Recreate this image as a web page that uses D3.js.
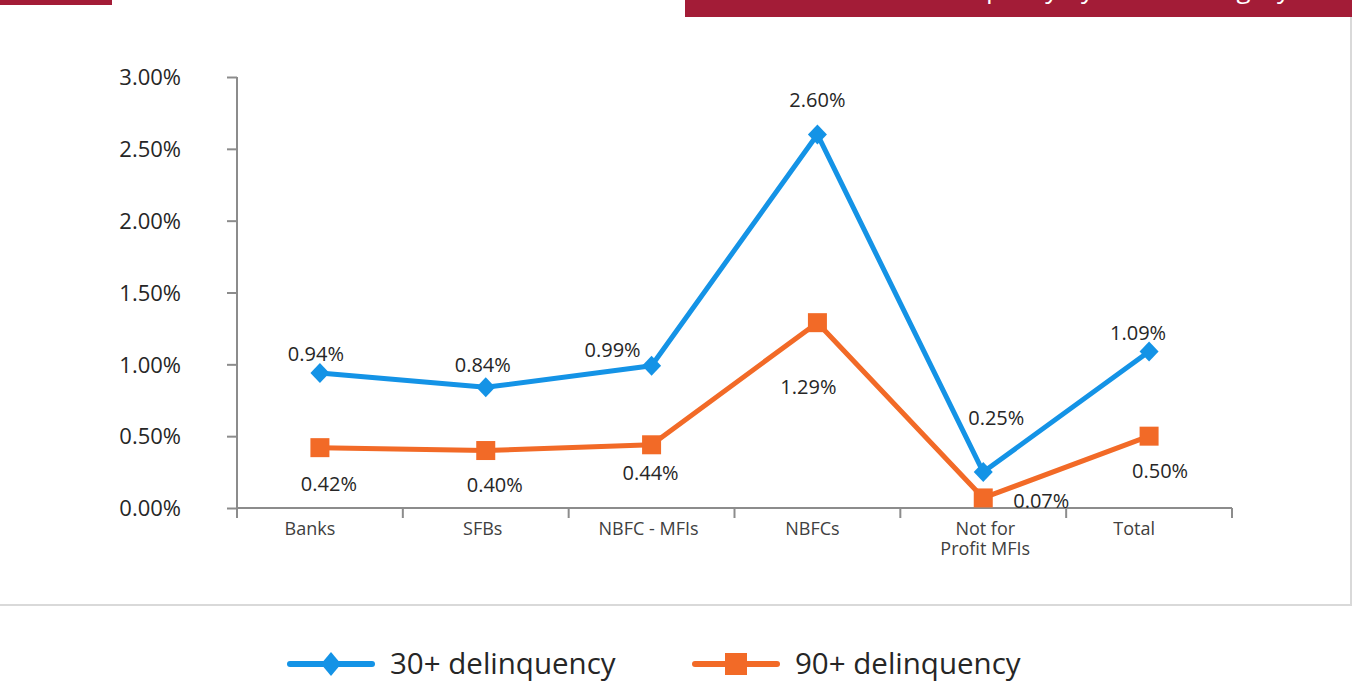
<!DOCTYPE html>
<html>
<head>
<meta charset="utf-8">
<script src="https://cdn.jsdelivr.net/npm/d3@7"></script>
<style>
  html, body { margin: 0; padding: 0; background: #fff; }
  svg { display: block; font-family: "Open Sans", "Noto Sans", sans-serif; }
</style>
</head>
<body>
<svg id="chart" width="1356" height="682"></svg>
<script>
// ---- data ----
const categories = ["Banks", "SFBs", "NBFC - MFIs", "NBFCs", "Not for|Profit MFIs", "Total"];
const delinquency30 = [0.94, 0.84, 0.99, 2.60, 0.25, 1.09];
const delinquency90 = [0.42, 0.40, 0.44, 1.29, 0.07, 0.50];
const seriesNames = ["30+ delinquency", "90+ delinquency"];
const yTicks = [0, 0.5, 1.0, 1.5, 2.0, 2.5, 3.0];
const titleText = "Asset quality by lender category";

// ---- layout / style ----
const blue = "#1493e6", orange = "#f26a27", red = "#a31c37";
const axisColor = "#8c8c8c", textColor = "#262626";
const margin = { left: 237, right: 1232, top: 77, bottom: 508 };
// label offsets (px) relative to the marker
const off30 = [[-4, -19], [-3, -22], [-39, -16], [0, -34], [13, -54], [-11, -18]];
const off90 = [[9, 36], [9, 34], [-1, 28], [-9, 64], [58, 3], [11, 35]];
const catDx = [-10, -3, -3, -5, 2, -15];

const svg = d3.select("#chart");

// frame and banners
svg.append("rect").attr("x", -10).attr("y", -10).attr("width", 1361).attr("height", 615)
  .attr("fill", "none").attr("stroke", "#d9d9d9").attr("stroke-width", 2);
svg.append("rect").attr("x", 0).attr("y", 0).attr("width", 112).attr("height", 5).attr("fill", red);
svg.append("rect").attr("x", 685).attr("y", 0).attr("width", 667).attr("height", 17).attr("fill", red);
svg.append("text").attr("x", 1290).attr("y", -2).attr("text-anchor", "end")
  .attr("font-size", 26).attr("fill", "#fff").text(titleText);

const x = d3.scaleBand().domain(d3.range(categories.length))
  .range([margin.left, margin.right]).paddingInner(0).paddingOuter(0);
const y = d3.scaleLinear().domain([0, 3]).range([margin.bottom, margin.top]);
const cx = i => x(i) + x.bandwidth() / 2;

// y axis
const yAxis = svg.append("g").attr("transform", `translate(${margin.left},0)`)
  .call(d3.axisLeft(y).tickValues(yTicks).tickSize(10).tickPadding(0)
    .tickFormat(d => d.toFixed(2) + "%"));
yAxis.select(".domain").attr("stroke", axisColor).attr("stroke-width", 2)
  .attr("d", `M0,${margin.top}V${margin.bottom}`);
yAxis.selectAll(".tick line").attr("stroke", axisColor).attr("stroke-width", 2);
yAxis.selectAll(".tick text").attr("x", -56).attr("dy", "0.35em")
  .attr("font-size", 22).attr("fill", textColor).attr("font-family", "Open Sans");

// x axis
const xAxisG = svg.append("g").attr("transform", `translate(0,${margin.bottom})`);
xAxisG.append("line").attr("x1", margin.left).attr("x2", margin.right)
  .attr("stroke", axisColor).attr("stroke-width", 2);
const xTickPos = d3.range(categories.length + 1).map(i => i < categories.length ? x(i) : margin.right);
xAxisG.selectAll("line.tk").data(xTickPos).join("line").attr("class", "tk")
  .attr("x1", d => d).attr("x2", d => d).attr("y1", 0).attr("y2", 10)
  .attr("stroke", axisColor).attr("stroke-width", 2);
categories.forEach((c, i) => {
  c.split("|").forEach((line, k) => {
    xAxisG.append("text").attr("text-anchor", "middle").attr("font-size", 18)
      .attr("fill", "#404040").attr("x", cx(i) + catDx[i]).attr("y", 27 + k * 20).text(line);
  });
});

// lines
const lineGen = d3.line().x((d, i) => cx(i)).y(d => y(d));
svg.append("path").datum(delinquency30).attr("d", lineGen).attr("fill", "none")
  .attr("stroke", blue).attr("stroke-width", 5).attr("stroke-linejoin", "round");
svg.append("path").datum(delinquency90).attr("d", lineGen).attr("fill", "none")
  .attr("stroke", orange).attr("stroke-width", 5).attr("stroke-linejoin", "round");

// markers
const diamond = (w, h) => `M0,${-h / 2}L${w / 2},0L0,${h / 2}L${-w / 2},0Z`;
svg.selectAll("path.m30").data(delinquency30).join("path").attr("class", "m30")
  .attr("transform", (d, i) => `translate(${cx(i)},${y(d)})`)
  .attr("d", diamond(19, 20)).attr("fill", blue);
svg.selectAll("rect.m90").data(delinquency90).join("rect").attr("class", "m90")
  .attr("x", (d, i) => cx(i) - 9.5).attr("y", d => y(d) - 9.5)
  .attr("width", 19).attr("height", 19).attr("fill", orange);

// data labels
const fmt = v => v.toFixed(2) + "%";
svg.selectAll("text.l30").data(delinquency30).join("text").attr("class", "l30")
  .attr("x", (d, i) => cx(i) + off30[i][0]).attr("y", (d, i) => y(d) + off30[i][1])
  .attr("dy", "0.35em").attr("text-anchor", "middle").attr("font-size", 20)
  .attr("fill", textColor).text(fmt);
svg.selectAll("text.l90").data(delinquency90).join("text").attr("class", "l90")
  .attr("x", (d, i) => cx(i) + off90[i][0]).attr("y", (d, i) => y(d) + off90[i][1])
  .attr("dy", "0.35em").attr("text-anchor", "middle").attr("font-size", 20)
  .attr("fill", textColor).text(fmt);

// legend
const legend = svg.append("g");
const legItems = [
  { name: seriesNames[0], color: blue, x0: 290, shape: "diamond" },
  { name: seriesNames[1], color: orange, x0: 695, shape: "square" }
];
legItems.forEach(it => {
  const g = legend.append("g").attr("transform", `translate(${it.x0},664)`);
  g.append("line").attr("x1", 0).attr("x2", 82).attr("stroke", it.color)
    .attr("stroke-width", 6).attr("stroke-linecap", "round");
  if (it.shape === "diamond") {
    g.append("path").attr("transform", "translate(41,0)").attr("d", diamond(20, 24)).attr("fill", it.color);
  } else {
    g.append("rect").attr("x", 30).attr("y", -11).attr("width", 22).attr("height", 22).attr("fill", it.color);
  }
  g.append("text").attr("x", 100).attr("dy", "0.35em").attr("font-size", 29.5)
    .attr("fill", textColor).text(it.name);
});
</script>
</body>
</html>
